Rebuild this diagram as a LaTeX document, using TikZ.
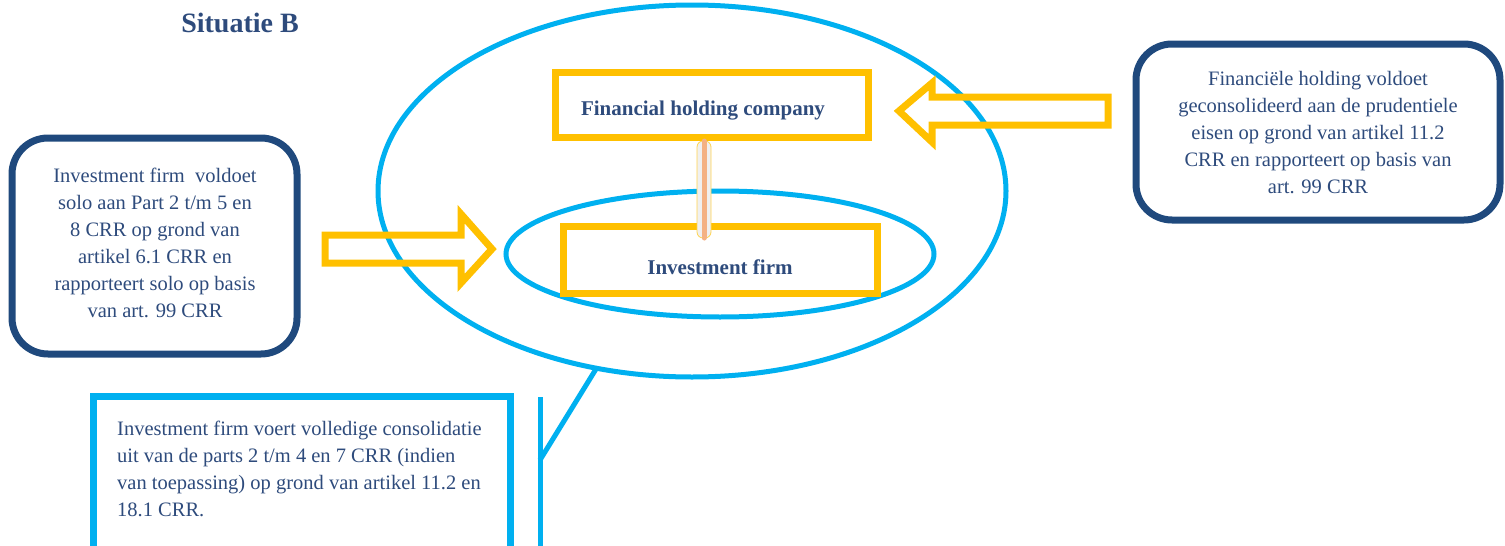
\documentclass[tikz,border=0pt]{standalone}
\usepackage{fontspec}
\setmainfont{Liberation Serif}
\usetikzlibrary{shapes.geometric}
\definecolor{txtblue}{HTML}{2E4B7C}
\definecolor{boxblue}{HTML}{1F497D}
\definecolor{cyanline}{HTML}{00B0F0}
\definecolor{ylw}{HTML}{FFC000}
\definecolor{salmon}{HTML}{F4B183}
\tikzset{
  infobox/.style={draw=boxblue, line width=7pt, rounded corners=36pt, inner sep=0pt},
  infotext/.style={text=txtblue, font=\fontsize{20.5}{27}\selectfont, align=center},
  entity/.style={draw=ylw, line width=7pt, inner sep=0pt},
  entitytext/.style={text=txtblue, font=\bfseries\fontsize{21}{24}\selectfont},
  oval/.style={draw=cyanline, line width=5pt, ellipse, inner sep=0pt},
  hollowarrow/.style={draw=ylw, line width=7pt, line join=miter},
}
\begin{document}
\begin{tikzpicture}[x=1pt,y=-1pt]
\useasboundingbox (0,0) rectangle (1505,546);
% title
\node[text=txtblue, font=\bfseries\fontsize{28}{32}\selectfont] (title) at (240,23) {Situatie B};
% ellipses
\node[oval, minimum width=628pt, minimum height=372pt] (big) at (692,191) {};
\node[oval, minimum width=428pt, minimum height=126pt] (small) at (720,254) {};
% entities
\node[entity, minimum width=313pt, minimum height=65pt] (fhc) at (711.5,104.5) {};
\node[entitytext] (fhct) at (703,111) {Financial holding company};
\node[entity, minimum width=314pt, minimum height=67pt] (ifirm) at (720,259.5) {};
\node[entitytext] (ifirmt) at (720,267) {Investment firm};
% connector
\coordinate (ct) at (704,141);
\coordinate (cb) at (704,238);
\draw[draw=ylw!70, fill=gray!12, line width=0.8pt, rounded corners=6pt] ([xshift=-7pt]ct) rectangle ([xshift=7pt]cb);
\draw[salmon, line width=5pt, line cap=round] (ct) -- (cb);
% left info box
\node[infobox, minimum width=285pt, minimum height=216pt] (lbox) at (154.5,246) {};
\node[infotext] (lboxt) at (155,243)
  {Investment firm~ voldoet\\solo aan Part 2 t/m 5 en\\8 CRR op grond van\\artikel 6.1 CRR en\\rapporteert solo op basis\\van art. 99 CRR};
% right info box
\node[infobox, minimum width=364pt, minimum height=176pt] (rbox) at (1318,132) {};
\node[infotext] (rboxt) at (1318,133)
  {Financiële holding voldoet\\geconsolideerd aan de prudentiele\\eisen op grond van artikel 11.2\\CRR en rapporteert op basis van\\art. 99 CRR};
% left hollow arrow (pointing right)
\draw[hollowarrow] (325,235) -- (461,235) -- (461,214) -- (492,249) -- (461,283) -- (461,263) -- (325,263) -- cycle;
% right hollow arrow (pointing left)
\draw[hollowarrow] (1108,97) -- (932,97) -- (932,83) -- (899,111) -- (932,142) -- (932,125) -- (1108,125) -- cycle;
% callout
\coordinate (cp) at (596,369);
\coordinate (cj) at (540,460);
\coordinate (vt) at (540,397);
\coordinate (vb) at (540,556);
\draw[cyanline, line width=5pt] (cp) -- (cj);
\draw[cyanline, line width=5pt] (vt) -- (vb);
% bottom box
\draw[cyanline, line width=7pt] (510,560) -- (510,396) -- (93,396) -- (93,560);
\node[anchor=north west, text=txtblue, font=\fontsize{20.5}{27}\selectfont, align=left, inner sep=0pt] (bboxt) at (117,421)
  {Investment firm voert volledige consolidatie\\uit van de parts 2 t/m 4 en 7 CRR (indien\\van toepassing) op grond van artikel 11.2 en\\18.1 CRR.};
\end{tikzpicture}
\end{document}
